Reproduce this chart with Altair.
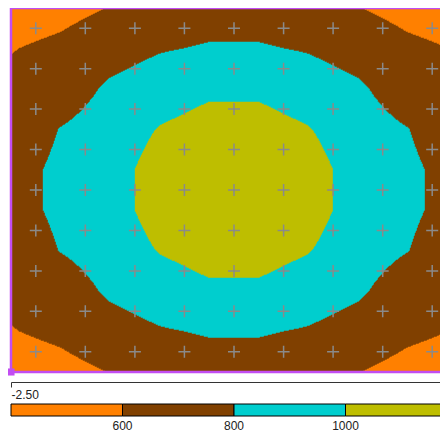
import altair as alt
import numpy as np
import pandas as pd

# ---- grid node coordinates (contour grid) ----
x_nodes = [-2.5, -1.944, -1.389, -0.833, -0.278, 0.278, 0.833, 1.389, 1.944, 2.5]
y_nodes = [2.5, 1.944, 1.389, 0.833, 0.278, -0.278, -0.833, -1.389, -1.944, -2.5]

# ---- field values at the grid nodes (rows top -> bottom) ----
z_row0 = [500, 540, 605, 680, 720, 720, 680, 605, 540, 500]
z_row1 = [592, 640, 720, 785, 815, 815, 785, 720, 640, 592]
z_row2 = [640, 700, 830, 900, 965, 965, 900, 830, 700, 640]
z_row3 = [700, 805, 885, 1010, 1075, 1075, 1010, 885, 805, 700]
z_row4 = [745, 830, 920, 1080, 1150, 1150, 1080, 920, 830, 745]
z_row5 = [745, 830, 920, 1080, 1150, 1150, 1080, 920, 830, 745]
z_row6 = [700, 805, 885, 1010, 1075, 1075, 1010, 885, 805, 700]
z_row7 = [640, 700, 830, 900, 965, 965, 900, 830, 700, 640]
z_row8 = [592, 640, 720, 785, 815, 815, 785, 720, 640, 592]
z_row9 = [500, 540, 605, 680, 720, 720, 680, 605, 540, 500]

# ---- marker grid (cell centres) ----
x_cross = [-2.222, -1.667, -1.111, -0.556, 0.0, 0.556, 1.111, 1.667, 2.222]
y_cross = [2.222, 1.667, 1.111, 0.556, 0.0, -0.556, -1.111, -1.667, -2.222]

# ---- contour levels and colours ----
levels = [600, 800, 1000]
level_colors = ["#ff8000", "#804000", "#00cece", "#bebe00"]
corner_x = [-2.5]
corner_y = [-2.5]
x_ticks = [-2.5]

FRAME = "#c24df2"
FULL_W = 446          # full width of the plot (runs past the window edge)
VIS_W = 429           # part of the plot that fits in the window
H = 364
SVG_H = 425

Z = np.array([z_row0, z_row1, z_row2, z_row3, z_row4, z_row5, z_row6, z_row7, z_row8, z_row9], float)
xn = np.array(x_nodes)
yn = np.array(y_nodes)
x_lo, x_hi = xn[0], xn[-1]
y_hi, y_lo = yn[0], yn[-1]
dx = (x_hi - x_lo) / FULL_W
dy = (y_hi - y_lo) / H
x_vis_hi = x_lo + VIS_W * dx

# filled-contour raster stored as horizontal runs (bilinear interpolation of the node grid)
ncol, nrow = VIS_W, H
xc = x_lo + (np.arange(ncol) + 0.5) * dx
fx = (xc - x_lo) / (x_hi - x_lo) * (len(xn) - 1)
i0 = np.clip(np.floor(fx).astype(int), 0, len(xn) - 2)
tx = fx - i0
rows = []
for r in range(nrow):
    yc = y_hi - (r + 0.5) * dy
    fy = (y_hi - yc) / (y_hi - y_lo) * (len(yn) - 1)
    j0 = min(max(int(np.floor(fy)), 0), len(yn) - 2)
    ty = fy - j0
    top = (1 - tx) * Z[j0, i0] + tx * Z[j0, i0 + 1]
    bot = (1 - tx) * Z[j0 + 1, i0] + tx * Z[j0 + 1, i0 + 1]
    z = (1 - ty) * top + ty * bot
    band = np.digitize(z, levels)
    start = 0
    for c in range(1, ncol + 1):
        if c == ncol or band[c] != band[start]:
            rows.append({
                "x0": x_lo + start * dx, "x1": x_lo + c * dx,
                "y0": y_hi - r * dy, "y1": y_hi - (r + 1) * dy,
                "z": float(z[start:c].mean()),
            })
            start = c
df_fill = pd.DataFrame(rows)

df_cross = pd.DataFrame([{"x": a, "y": b} for b in y_cross for a in x_cross])
df_corner = pd.DataFrame({"x": corner_x, "y": corner_y})

xscale = alt.Scale(domain=[x_lo, x_vis_hi], nice=False, zero=False)
yscale = alt.Scale(domain=[y_lo, y_hi], nice=False, zero=False)
cscale = alt.Scale(type="threshold", domain=levels, range=level_colors)

LBL = dict(labelFont="Liberation Sans", labelFontSize=12, labelColor="#222222")

fill = alt.Chart(df_fill).mark_rect(strokeWidth=0.5).encode(
    x=alt.X("x0:Q", scale=xscale, title=None,
            axis=alt.Axis(values=x_ticks, format=".2f", offset=10, tickSize=5,
                          labelPadding=2, grid=False, labelFlush=True,
                          labelExpr="replace(datum.label, '\u2212', '-')",
                          domainColor="#333333", tickColor="#333333", **LBL)),
    x2="x1:Q",
    y=alt.Y("y0:Q", scale=yscale, axis=None),
    y2="y1:Q",
    color=alt.Color("z:Q", scale=cscale,
                    legend=alt.Legend(type="gradient", orient="none", legendX=0, legendY=396,
                                      direction="horizontal", gradientLength=FULL_W,
                                      gradientThickness=12, title=None, labelOffset=5,
                                      gradientStrokeColor="black", gradientStrokeWidth=1,
                                      labelOverlap=False, **LBL)),
    stroke=alt.Stroke("z:Q", scale=cscale, legend=None),
)

crosses = alt.Chart(df_cross).mark_point(
    shape="M-1,0L1,0M0,-1L0,1", size=144, filled=False, color="#8a8a8a",
    strokeWidth=1.5, opacity=1,
).encode(x=alt.X("x:Q", scale=xscale), y=alt.Y("y:Q", scale=yscale))

frame_top = alt.Chart(df_corner).mark_rule(color=FRAME, strokeWidth=2.5).encode(
    x=alt.value(0), x2=alt.value(VIS_W), y=alt.value(0))
frame_left = alt.Chart(df_corner).mark_rule(color=FRAME, strokeWidth=2.5).encode(
    x=alt.value(0), y=alt.value(0), y2=alt.value(H))
frame_bottom = alt.Chart(df_corner).mark_rule(color=FRAME, strokeWidth=2.5).encode(
    x=alt.value(0), x2=alt.value(VIS_W), y=alt.value(H))

corner = alt.Chart(df_corner).mark_square(size=50, color=FRAME, opacity=1).encode(
    x=alt.X("x:Q", scale=xscale), y=alt.Y("y:Q", scale=yscale)
)

chart = alt.layer(fill, crosses, frame_top, frame_left, frame_bottom, corner).properties(
    width=VIS_W, height=H,
    padding={"left": 3, "top": 0, "right": 0, "bottom": SVG_H - H},
    autosize=alt.AutoSizeParams(type="none"),
).configure_view(stroke=None)

chart.save("out.html", embed_options={"renderer": "svg", "actions": False})
